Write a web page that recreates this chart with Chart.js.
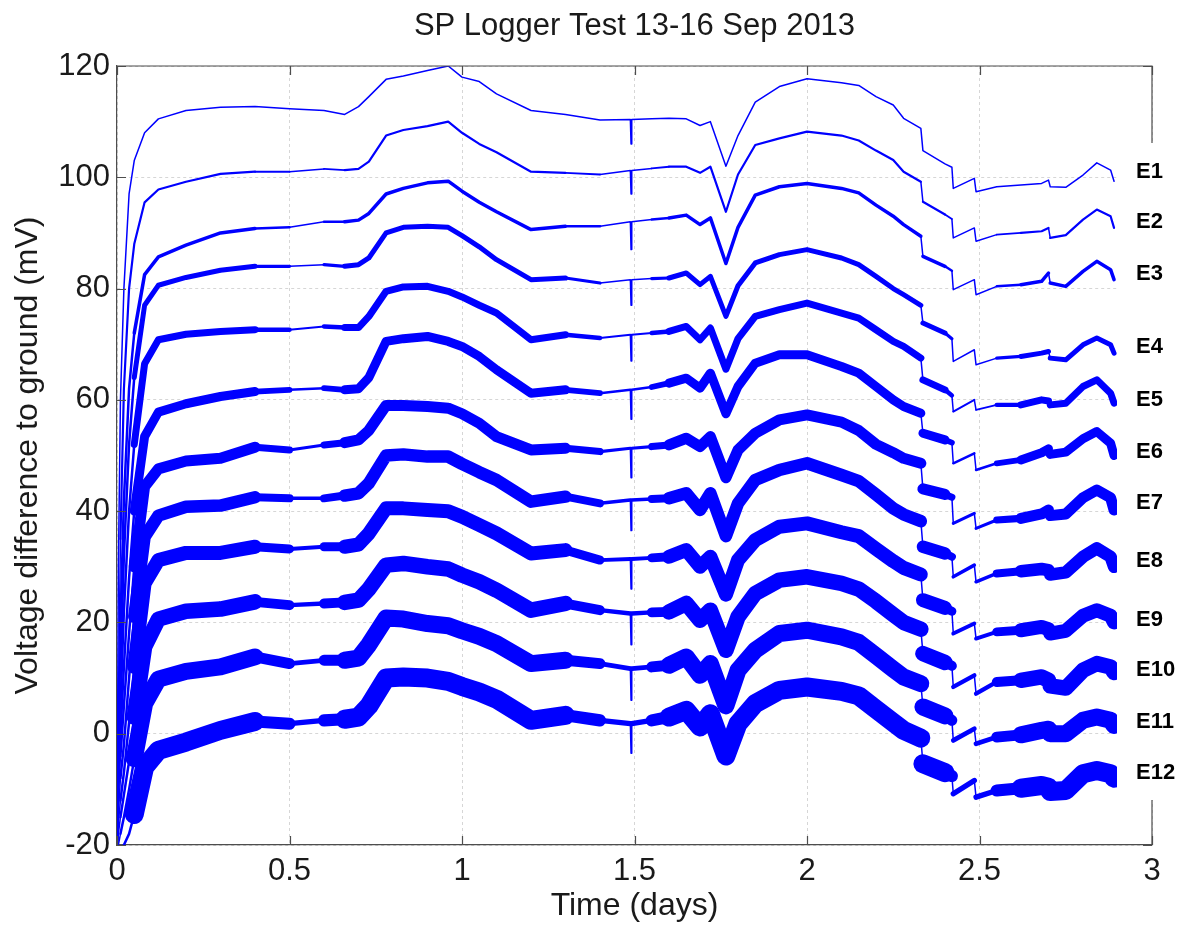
<!DOCTYPE html>
<html><head><meta charset="utf-8">
<script src="https://cdn.jsdelivr.net/npm/chart.js@4.4.1/dist/chart.umd.min.js"></script>
<style>html,body{margin:0;padding:0;background:#fff;}#wrap{width:1184px;height:929px;position:relative;}</style>
</head><body><div id="wrap"><canvas id="c" width="1184" height="929"></canvas></div>
<script>
const TITLE = 'SP Logger Test 13-16 Sep 2013';
const X_TITLE = 'Time (days)';
const Y_TITLE = 'Voltage difference to ground (mV)';
const X_TICKS = [0, 0.5, 1, 1.5, 2, 2.5, 3];
const Y_TICKS = [-20, 0, 20, 40, 60, 80, 100, 120];
const SERIES = ['E1','E2','E3','E4','E5','E6','E7','E8','E9','E10','E11','E12'];
const LABEL_Y = [101.0, 92.0, 82.6, 69.5, 60.0, 50.6, 41.5, 31.0, 20.4, 11.4, 2.1, -7.1];

const T = [0, 0.004, 0.01, 0.02, 0.035, 0.05, 0.08, 0.12, 0.2, 0.3,
  0.4, 0.5, 0.6, 0.66, 0.7, 0.73, 0.78, 0.83, 0.9, 0.96,
  1.0, 1.05, 1.1, 1.2, 1.3, 1.4, 1.488, 1.49, 1.492, 1.55,
  1.6, 1.65, 1.69, 1.72, 1.765, 1.8, 1.85, 1.92, 2.0, 2.1,
  2.15, 2.2, 2.25, 2.28, 2.33, 2.336, 2.4, 2.42, 2.424, 2.485,
  2.49, 2.55, 2.62, 2.68, 2.7, 2.705, 2.75, 2.8, 2.84, 2.88, 2.89];

const E1 = [-22, 30, 60, 80, 97, 103, 108, 110.5, 112, 112.6,
  112.7, 112.3, 112, 111.3, 112.7, 114.5, 117.6, 118.2, 119.2, 120,
  118, 117.2, 115, 112, 111.3, 110.3, 110.4, 106, 110.4, 110.5,
  110.6, 110.5, 109.3, 110, 102, 107.5, 113.5, 116.3, 117.7, 117,
  116.5, 114.5, 113, 110.6, 108.8, 104.8, 102.4, 101.8, 98, 99.8,
  97.4, 98.3, 98.6, 98.9, 99.5, 98.3, 98.2, 100.4, 102.6, 101.3, 99.3];
const E2 = [-22, 5, 35, 62, 80, 88, 95.5, 97.8, 99.2, 100.6,
  101, 101, 101.5, 101.3, 101.5, 102.8, 107.5, 108.5, 109.2, 110,
  108, 106, 104.5, 101, 100.8, 100.5, 101.2, 97, 101.2, 101.6,
  101.9, 101.9, 100.8, 101.9, 93.8, 100.5, 105.8, 107, 108.2, 107.5,
  106.6, 104.8, 103.1, 101, 99.2, 95.6, 93.3, 92.5, 89.1, 90.9,
  88.5, 89.7, 90, 90.3, 90.9, 89.1, 89.6, 92.4, 94.2, 93, 90.9];
const E3 = [-22, -2, 20, 42, 62, 72, 82.5, 85.7, 87.8, 90,
  90.8, 91, 92, 92, 92.3, 93.5, 97, 98, 99, 99.3,
  97.5, 95.5, 93.8, 90.6, 91.2, 91.2, 92, 87, 92, 92.4,
  92.7, 93.2, 91.5, 92.7, 84.5, 91, 96.8, 98.3, 98.9, 98,
  97.2, 95, 93, 91.5, 89.4, 85.8, 84, 83.2, 79.8, 81.6,
  78.9, 80.4, 80.7, 81.3, 82.8, 81, 80.4, 83.1, 84.9, 83.4, 81.6];
const E4 = [-22, -5, 12, 32, 52, 64, 77, 80.6, 82, 83.3,
  84, 84, 84.3, 84, 84.3, 85.5, 90, 91, 91.2, 91,
  89.5, 87.5, 85.2, 81.6, 81.9, 81, 81.6, 77, 81.6, 81.8,
  81.9, 82.8, 80.7, 82.2, 75, 80.5, 84.6, 86.1, 87, 85.5,
  84.3, 82.2, 80, 78.9, 77, 73.8, 72, 71, 66.9, 69,
  66.3, 67.5, 67.8, 68.4, 68.7, 67.5, 67.2, 69.9, 71.1, 69.9, 68.4];
const E5 = [-22, -8, 5, 22, 40, 52, 66.5, 70.8, 71.8, 72.3,
  72.6, 72.6, 73.2, 73, 73, 75, 79.5, 80.3, 80.4, 79.5,
  78.5, 77, 75.6, 70.8, 71.7, 71.1, 71.7, 67, 71.7, 72,
  72.3, 73.2, 70.8, 72.9, 65.5, 71, 75, 76.2, 77.4, 75.6,
  74.7, 72.6, 70.5, 69.6, 67.5, 63.6, 61.8, 60.8, 57.9, 60,
  58.2, 59.1, 59.1, 60, 59.8, 59.1, 59.4, 62.4, 63.6, 61.2, 59.4];
const E6 = [-22, -10, 0, 12, 28, 40, 53.4, 57.8, 59.3, 60.6,
  61.5, 61.8, 62.1, 61.8, 62, 64, 70.5, 71, 71.4, 70.5,
  69.6, 67.8, 65.4, 61.2, 61.8, 61.2, 61.8, 56.5, 61.8, 62.3,
  63, 63.9, 62.1, 64.8, 57.5, 62.4, 66.6, 68.1, 68.1, 66,
  64.8, 62.4, 60, 58.8, 57.6, 54, 52.8, 52.3, 48.6, 50.4,
  47.4, 48.6, 49.2, 50.5, 51.2, 50.2, 50.6, 53, 54.3, 52.2, 50];
const E7 = [-22, -12, -4, 5, 18, 30, 44.4, 47.6, 49, 49.5,
  51.5, 51, 51.9, 52.3, 52.8, 54.5, 59, 59, 58.8, 58.5,
  57.5, 55.8, 53.4, 51, 51.3, 50.7, 51.3, 46, 51.3, 51.6,
  51.9, 53.1, 51.6, 53.4, 46, 51, 54, 56.4, 57.3, 56,
  54.5, 52, 50.5, 49.5, 48.6, 44, 43, 42.5, 37.8, 39.6,
  36.9, 38.4, 38.7, 39.5, 40.2, 39.2, 39.5, 42.4, 43.8, 42.4, 40.2];
const E8 = [-22, -14, -8, -2, 10, 21, 35.4, 39.2, 40.8, 41,
  42.5, 42.3, 42.3, 42.8, 43.2, 45, 50, 50.2, 49.8, 49.8,
  48.5, 47, 45.6, 41.7, 42.6, 41.4, 42, 36.5, 42, 42.2,
  42.3, 43.2, 40.2, 43.2, 35.5, 41.4, 45.6, 47.4, 48.6, 46.5,
  45.4, 43, 40.5, 39.4, 38.2, 33.6, 32.4, 31.8, 28.2, 30.3,
  27.3, 28.8, 29.2, 29.6, 29.4, 28.6, 29, 31.8, 33.3, 31.8, 30];
const E9 = [-22, -16, -12, -7, 2, 12, 27, 31.2, 32.5, 32.5,
  33.6, 33.2, 33.6, 33.6, 34, 36, 40.5, 40.5, 40.2, 40,
  39, 37.5, 36, 32.4, 33, 31.2, 31.4, 26, 31.4, 31.6,
  31.8, 33, 30, 31.8, 25, 31.2, 34.8, 37.2, 37.8, 36.2,
  35.5, 33.2, 31, 29.8, 28.6, 24, 22.6, 22, 18, 19.8,
  17.1, 18.3, 18.6, 19.2, 18.8, 18, 18.5, 21.2, 22.2, 21.2, 20];
const E10 = [-22, -18, -15, -11, -5, 3, 15.6, 20.6, 22, 22.4,
  23.7, 23.1, 23.4, 23.6, 24, 26, 30.3, 30.6, 30, 29.6,
  28.5, 27.3, 25.8, 22.2, 23.4, 22.2, 21.6, 16, 21.6, 21.8,
  21.9, 23.4, 20.4, 22.2, 15, 21, 25.2, 27.6, 28.2, 27,
  26, 23.8, 21.4, 20, 18.8, 14.4, 12.8, 12.2, 8.4, 10.5,
  7.2, 9.3, 9.6, 10.2, 9.6, 8.6, 8.2, 11.4, 12.6, 12, 11];
const E11 = [-22, -20, -18, -15, -10, -4.5, 5.4, 9.8, 11.2, 12,
  13.8, 12.6, 13.2, 13.2, 13.6, 16, 20.8, 20.6, 19.8, 19.4,
  18.5, 17.5, 16.2, 12.6, 13.2, 12.6, 11.7, 6, 11.7, 12,
  12.3, 13.8, 10.5, 12.6, 5, 11.4, 15, 18, 18.6, 17.4,
  16.4, 14, 11.6, 10.2, 9, 4.8, 3.2, 2.4, -1.2, 0.9,
  -1.8, -0.6, -0.2, 0.6, 0.8, 0, 0, 2.4, 3, 2.4, 1.5];
const E12 = [-22, -22, -21, -20, -18, -14.5, -6, -3, -1.5, 0.6,
  2.2, 1.8, 2.4, 2.6, 3, 5, 10, 10.2, 10, 9.4,
  8.5, 7.5, 6.2, 2.4, 3.3, 2.4, 1.8, -3.5, 1.8, 2.4,
  3, 4.2, 1.2, 3.6, -4, 1.8, 5.4, 7.8, 8.4, 7.6,
  6.8, 4.4, 2, 0.6, -0.8, -5.4, -7, -7.6, -10.8, -8.4,
  -11.4, -10.2, -9.8, -9.3, -9.6, -10.4, -10.2, -7.2, -6.6, -7.2, -8];

const VALUES = [E1, E2, E3, E4, E5, E6, E7, E8, E9, E10, E11, E12];

// drawn thickness of each trace (px): full where logger noise is strong, reduced in quiet spells
const NOISE_PX = [1.5, 2.2, 3.5, 5, 7, 9, 11, 12.5, 14, 15.5, 17, 19];
const QUIET = [[0.45, 0.64], [1.37, 1.59], [2.42, 2.55]];

const BLUE = '#0000ff';
const AXIS = '#4d4d4d';
const FONT = '"Liberation Sans", Arial, sans-serif';

function pointWidth(k, t) {
  const full = NOISE_PX[k];
  for (const [a, b] of QUIET) if (t >= a && t <= b) return Math.max(1.5, full * 0.28);
  return full;
}
function segWidth(k, x0, x1) {
  const full = NOISE_PX[k];
  if (x1 - x0 < 0.01) return Math.min(full, 1.5);   // vertical steps / spikes
  if (x1 <= 0.05) return Math.min(full, 2.5);       // steep initial rise
  return (pointWidth(k, x0) + pointWidth(k, x1)) / 2;
}

const datasets = SERIES.map((name, k) => ({
  label: name,
  data: T.map((t, i) => ({x: t, y: VALUES[k][i]})),
  borderColor: BLUE,
  borderWidth: NOISE_PX[k],
  borderJoinStyle: 'round',
  borderCapStyle: 'round',
  pointRadius: 0,
  pointHoverRadius: 0,
  tension: 0,
  fill: false,
  clip: 0,
  segment: { borderWidth: ctx => segWidth(k, ctx.p0.parsed.x, ctx.p1.parsed.x) }
}));

const deco = {
  id: 'deco',
  afterDatasetsDraw(chart) {
    const {ctx, chartArea: a, scales: {x, y}} = chart;
    ctx.save();
    ctx.strokeStyle = AXIS;
    ctx.lineWidth = 1.2;
    ctx.setLineDash([]);
    ctx.beginPath();
    ctx.moveTo(a.left, a.top); ctx.lineTo(a.right, a.top); ctx.lineTo(a.right, a.bottom);
    ctx.stroke();
    const L = 9;
    ctx.beginPath();
    X_TICKS.forEach(v => {
      const px = Math.round(x.getPixelForValue(v)) + 0.5;
      ctx.moveTo(px, a.bottom); ctx.lineTo(px, a.bottom - L);
      ctx.moveTo(px, a.top); ctx.lineTo(px, a.top + L);
    });
    Y_TICKS.forEach(v => {
      const py = Math.round(y.getPixelForValue(v)) + 0.5;
      ctx.moveTo(a.left, py); ctx.lineTo(a.left + L, py);
      ctx.moveTo(a.right, py); ctx.lineTo(a.right - L, py);
    });
    ctx.stroke();
    // white legend strip over right edge
    ctx.fillStyle = '#ffffff';
    ctx.fillRect(1117, 143, 67, 657);
    ctx.fillStyle = '#000';
    ctx.font = 'bold 22px ' + FONT;
    ctx.textAlign = 'left';
    ctx.textBaseline = 'middle';
    SERIES.forEach((s, k) => ctx.fillText(s, 1136, y.getPixelForValue(LABEL_Y[k])));
    // title
    ctx.font = '31px ' + FONT;
    ctx.fillStyle = '#1a1a1a';
    ctx.textAlign = 'center';
    ctx.fillText(TITLE, (a.left + a.right) / 2, 26);
    ctx.restore();
  }
};

new Chart(document.getElementById('c'), {
  type: 'line',
  data: { datasets },
  options: {
    responsive: false,
    animation: false,
    events: [],
    layout: { padding: { top: 66, right: 32, bottom: 0, left: 0 } },
    plugins: { legend: { display: false }, tooltip: { enabled: false }, title: { display: false } },
    scales: {
      x: {
        type: 'linear', min: 0, max: 3,
        afterFit: s => { s.height = 84; },
        afterBuildTicks: s => { s.ticks = X_TICKS.map(v => ({value: v})); },
        ticks: { font: { size: 31, family: FONT }, color: '#1a1a1a', padding: 8, maxRotation: 0,
                 callback: v => String(v) },
        grid: { color: '#d6d6d6', lineWidth: 1, drawTicks: false },
        border: { display: true, color: AXIS, width: 1.2, dash: [3, 3] },
        title: { display: true, text: X_TITLE, font: { size: 32, family: FONT }, color: '#1a1a1a', padding: { top: 0, bottom: 4 } }
      },
      y: {
        type: 'linear', min: -20, max: 120,
        afterFit: s => { s.width = 117; },
        afterBuildTicks: s => { s.ticks = Y_TICKS.map(v => ({value: v})); },
        ticks: { font: { size: 31, family: FONT }, color: '#1a1a1a', padding: 7,
                 callback: v => String(v) },
        grid: { color: '#d6d6d6', lineWidth: 1, drawTicks: false },
        border: { display: true, color: AXIS, width: 1.2, dash: [3, 3] },
        title: { display: true, text: Y_TITLE, font: { size: 32, family: FONT }, color: '#1a1a1a', padding: { top: 9, bottom: 0 } }
      }
    }
  },
  plugins: [deco]
});
</script></body></html>
